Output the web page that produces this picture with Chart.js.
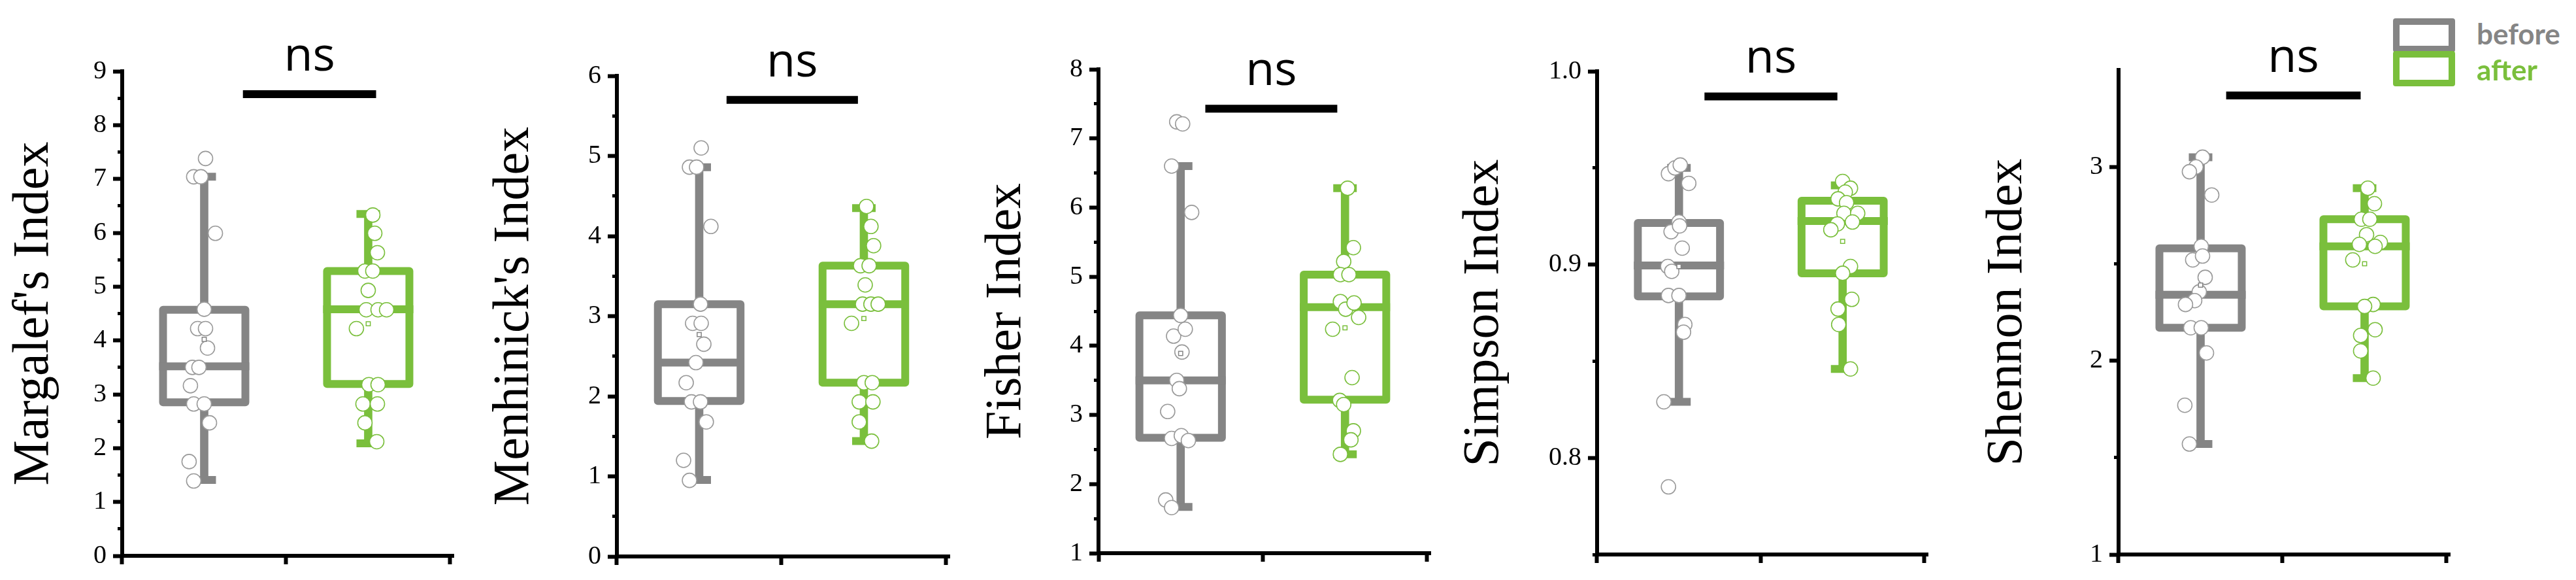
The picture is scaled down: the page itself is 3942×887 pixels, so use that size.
<!DOCTYPE html>
<html>
<head>
<meta charset="utf-8">
<script src="https://cdn.jsdelivr.net/npm/chart.js@4.4.1/dist/chart.umd.min.js"></script>
<style>
  html, body { margin: 0; padding: 0; background: #fff; }
  body { width: 3942px; height: 887px; position: relative; overflow: hidden; }
  .panel { position: absolute; top: 0; height: 887px; }
  .lg-box { position: absolute; box-sizing: border-box; border: 10px solid; border-radius: 4px; background: #fff; }
  .lg-text { position: absolute; font-family: Lato, sans-serif; font-weight: 700; font-size: 44px; line-height: 44px; white-space: nowrap; }
</style>
</head>
<body>
<div class="panel" id="p0"><canvas></canvas></div>
<div class="panel" id="p1"><canvas></canvas></div>
<div class="panel" id="p2"><canvas></canvas></div>
<div class="panel" id="p3"><canvas></canvas></div>
<div class="panel" id="p4"><canvas></canvas></div>

<div class="lg-box" style="left:3662px;top:28px;width:95px;height:52px;border-color:#858585"></div>
<div class="lg-box" style="left:3662px;top:78px;width:95px;height:54px;border-color:#7abf3c"></div>
<div class="lg-text" style="left:3790px;top:29px;color:#858585">before</div>
<div class="lg-text" style="left:3790px;top:84px;color:#7abf3c">after</div>

<script>
const GRAY = '#858585';
const GREEN = '#7abf3c';

const categories = ['before', 'after'];
const titles = ["Margalef's Index", "Menhinick's Index", 'Fisher Index', 'Simpson Index', 'Shennon Index'];

// y axis ranges and tick steps
const yMin = [0, 0, 1, 0.75, 1];
const yMax = [9, 6, 8, 1.0, 3.5];
const yStep = [0.5, 0.5, 0.5, 0.05, 0.5];
const yMajor = [1, 1, 1, 0.1, 1];
const yDecimals = [0, 0, 0, 1, 0];

// box stats: [lower whisker, Q1, median, Q3, upper whisker]
const margalefBoxBefore = [1.41, 2.85, 3.52, 4.57, 7.04];
const margalefBoxAfter = [2.09, 3.19, 4.58, 5.29, 6.35];
const menhinickBoxBefore = [0.955, 1.94, 2.42, 3.15, 4.86];
const menhinickBoxAfter = [1.44, 2.17, 3.15, 3.63, 4.35];
const fisherBoxBefore = [1.67, 2.67, 3.50, 4.44, 6.60];
const fisherBoxAfter = [2.43, 3.22, 4.56, 5.03, 6.28];
const simpsonBoxBefore = [0.829, 0.8835, 0.8995, 0.9215, 0.950];
const simpsonBoxAfter = [0.846, 0.8955, 0.9225, 0.933, 0.941];
const shennonBoxBefore = [1.57, 2.17, 2.34, 2.58, 3.05];
const shennonBoxAfter = [1.91, 2.28, 2.59, 2.73, 2.89];

// mean markers per panel
const meansBefore = [4.02, 2.77, 3.89, 0.899, 2.39];
const meansAfter = [4.31, 2.97, 4.26, 0.912, 2.50];

// individual samples and their horizontal jitter (category units)
const margalefBefore = [7.38, 7.04, 7.04, 5.99, 4.58, 4.22, 4.22, 3.86, 3.50, 3.50, 3.16, 2.82, 2.82, 2.47, 1.75, 1.39];
const margalefBeforeJitter = [0.008, -0.064, -0.02, 0.068, 0, -0.04, 0.008, 0.02, -0.072, -0.032, -0.084, -0.064, 0, 0.032, -0.092, -0.064];
const margalefAfter = [6.33, 5.99, 5.63, 5.29, 5.29, 4.93, 4.57, 4.57, 4.57, 4.22, 3.18, 3.18, 2.82, 2.82, 2.47, 2.12];
const margalefAfterJitter = [0.028, 0.04, 0.056, -0.02, 0.028, 0, -0.012, 0.06, 0.112, -0.072, 0.004, 0.06, -0.032, 0.056, -0.02, 0.052];

const menhinickBefore = [5.10, 4.86, 4.86, 4.12, 3.15, 2.91, 2.91, 2.65, 2.42, 2.17, 1.93, 1.93, 1.68, 1.20, 0.95];
const menhinickBeforeJitter = [0.012, -0.059, -0.016, 0.071, 0.008, -0.04, 0.012, 0.028, -0.02, -0.079, -0.047, 0.008, 0.043, -0.095, -0.059];
const menhinickAfter = [4.37, 4.12, 3.88, 3.63, 3.63, 3.39, 3.15, 3.15, 3.15, 2.91, 2.17, 2.17, 1.93, 1.93, 1.68, 1.44];
const menhinickAfterJitter = [0.016, 0.043, 0.059, -0.02, 0.032, 0.008, -0.008, 0.043, 0.087, -0.075, 0, 0.051, -0.028, 0.055, -0.028, 0.047];

const fisherBefore = [7.24, 7.21, 6.60, 5.93, 4.44, 4.14, 4.24, 3.91, 3.50, 3.38, 3.05, 2.66, 2.70, 2.63, 1.77, 1.66];
const fisherBeforeJitter = [-0.024, 0.012, -0.055, 0.067, 0, -0.043, 0.028, 0.008, -0.024, -0.008, -0.079, -0.055, 0.004, 0.047, -0.091, -0.055];
const fisherAfter = [6.28, 5.42, 5.22, 5.03, 5.03, 4.64, 4.53, 4.62, 4.41, 4.24, 3.54, 3.21, 3.15, 2.77, 2.64, 2.43];
const fisherAfterJitter = [0.016, 0.051, -0.008, -0.028, 0.024, -0.028, 0.004, 0.055, 0.083, -0.075, 0.043, -0.032, -0.008, 0.051, 0.036, -0.028];

const simpsonBefore = [0.947, 0.950, 0.9515, 0.942, 0.922, 0.917, 0.920, 0.9085, 0.899, 0.8965, 0.884, 0.884, 0.869, 0.865, 0.829, 0.785];
const simpsonBeforeJitter = [-0.064, -0.024, 0.008, 0.06, 0, -0.048, 0.004, 0.02, -0.068, -0.044, -0.064, 0, 0.036, 0.028, -0.092, -0.064];
const simpsonAfter = [0.943, 0.9395, 0.9375, 0.934, 0.932, 0.9265, 0.9265, 0.922, 0.921, 0.918, 0.899, 0.8955, 0.882, 0.877, 0.869, 0.846];
const simpsonAfterJitter = [0, 0.048, 0.016, -0.028, 0.024, 0.008, 0.092, 0.06, -0.032, -0.072, 0.048, 0, 0.056, -0.028, -0.024, 0.048];

const shennonBefore = [3.05, 3.00, 2.975, 2.855, 2.59, 2.52, 2.54, 2.43, 2.355, 2.31, 2.29, 2.17, 2.17, 2.04, 1.77, 1.57];
const shennonBeforeJitter = [0.012, -0.028, -0.068, 0.068, 0.004, -0.048, 0.012, 0.028, -0.008, -0.036, -0.092, -0.06, 0.004, 0.036, -0.096, -0.068];
const shennonAfter = [2.89, 2.81, 2.73, 2.73, 2.65, 2.61, 2.59, 2.60, 2.52, 2.29, 2.28, 2.16, 2.13, 2.05, 1.91];
const shennonAfterJitter = [0.02, 0.06, -0.02, 0.032, 0.012, 0.096, 0.064, -0.032, -0.072, 0.052, 0, 0.064, -0.024, -0.024, 0.052];

// significance bracket per panel
const sigFrom = [1.236, 1.166, 1.15, 1.156, 1.156];
const sigTo = [2.048, 1.964, 1.953, 1.968, 1.976];
const sigY = [8.575, 5.70, 7.43, 0.987, 3.368];
const sigLabel = 'ns';

const boxesBefore = [margalefBoxBefore, menhinickBoxBefore, fisherBoxBefore, simpsonBoxBefore, shennonBoxBefore];
const boxesAfter = [margalefBoxAfter, menhinickBoxAfter, fisherBoxAfter, simpsonBoxAfter, shennonBoxAfter];
const samplesBefore = [margalefBefore, menhinickBefore, fisherBefore, simpsonBefore, shennonBefore];
const jitterBefore = [margalefBeforeJitter, menhinickBeforeJitter, fisherBeforeJitter, simpsonBeforeJitter, shennonBeforeJitter];
const samplesAfter = [margalefAfter, menhinickAfter, fisherAfter, simpsonAfter, shennonAfter];
const jitterAfter = [margalefAfterJitter, menhinickAfterJitter, fisherAfterJitter, simpsonAfterJitter, shennonAfterJitter];

// page layout (pixels)
const axisX = [187, 944, 1681, 2444, 3242];
const areaRight = [694, 1453, 2189, 2950, 3749];
const areaTop = [109, 116, 106, 109, 107];
const areaBottom = [850, 851, 846, 848, 848];
const titleX = [53, 788, 1541, 2272, 3073];
const Y_AXIS_W = 220;
const PAD_RIGHT = 10;
const X_MIN = 0.5, X_MAX = 2.52;
const BOX_HALF = 0.251;   // half box width in category units

const isMajor = (v, major) => Math.abs(v / major - Math.round(v / major)) < 1e-6;

const nsPlugin = {
    id: 'nsLabel',
    afterDatasetsDraw(chart, args, opts) {
        const {ctx, scales: {x, y}} = chart;
        ctx.save();
        ctx.font = "72px 'Open Sans', sans-serif";
        ctx.fillStyle = '#000';
        ctx.textAlign = 'center';
        ctx.textBaseline = 'alphabetic';
        const cx = x.getPixelForValue((opts.from + opts.to) / 2);
        ctx.fillText(opts.text, cx, y.getPixelForValue(opts.level) - 36);
        ctx.restore();
    }
};

// closed outline from Q1 to Q3 around category c
function boxOutline(c, s, color) {
    return {
        type: 'line', label: 'box', order: 4,
        data: [
            {x: c - BOX_HALF, y: s[1]}, {x: c + BOX_HALF, y: s[1]},
            {x: c + BOX_HALF, y: s[3]}, {x: c - BOX_HALF, y: s[3]},
            {x: c - BOX_HALF, y: s[1]}
        ],
        borderColor: color, borderWidth: 12, pointRadius: 0, tension: 0, fill: false,
        borderJoinStyle: 'round', borderCapStyle: 'round'
    };
}

function makePanel(i) {
    const wrap = document.getElementById('p' + i);
    const left = axisX[i] - Y_AXIS_W;
    wrap.style.left = left + 'px';
    wrap.style.width = (areaRight[i] - left + PAD_RIGHT) + 'px';

    const b = boxesBefore[i], a = boxesAfter[i];
    const major = yMajor[i];

    new Chart(wrap.querySelector('canvas'), {
        type: 'scatter',
        data: {
            datasets: [
                {
                    type: 'bar', label: 'whiskers', order: 6, grouped: false,
                    data: [
                        {x: 1, y: [b[0], b[1]]}, {x: 1, y: [b[3], b[4]]},
                        {x: 2, y: [a[0], a[1]]}, {x: 2, y: [a[3], a[4]]}
                    ],
                    backgroundColor: [GRAY, GRAY, GREEN, GREEN], barThickness: 12
                },
                {
                    label: 'caps', order: 5,
                    data: [{x: 1, y: b[0]}, {x: 1, y: b[4]}, {x: 2, y: a[0]}, {x: 2, y: a[4]}],
                    pointStyle: 'line', pointRadius: 18, pointBorderWidth: 12,
                    pointBorderColor: [GRAY, GRAY, GREEN, GREEN]
                },
                boxOutline(1, b, GRAY),
                boxOutline(2, a, GREEN),
                {
                    label: 'medians', order: 3,
                    data: [{x: 1, y: b[2]}, {x: 2, y: a[2]}],
                    pointStyle: 'line', pointRadius: 69, pointBorderWidth: 12,
                    pointBorderColor: [GRAY, GREEN]
                },
                {
                    label: categories[0], order: 2,
                    data: samplesBefore[i].map((v, k) => ({x: 1 + jitterBefore[i][k], y: v})),
                    pointRadius: 11, pointBorderWidth: 1.6,
                    pointBackgroundColor: '#fff', pointBorderColor: '#9a9a9a'
                },
                {
                    label: categories[1], order: 2,
                    data: samplesAfter[i].map((v, k) => ({x: 2 + jitterAfter[i][k], y: v})),
                    pointRadius: 11, pointBorderWidth: 1.6,
                    pointBackgroundColor: '#fff', pointBorderColor: GREEN
                },
                {
                    label: 'mean', order: 1,
                    data: [{x: 1, y: meansBefore[i]}, {x: 2, y: meansAfter[i]}],
                    pointStyle: 'rect', pointRadius: 4.5, pointBorderWidth: 1.5,
                    pointBackgroundColor: '#fff', pointBorderColor: [GRAY, GREEN]
                },
                {
                    type: 'line', label: 'significance', order: 0,
                    data: [{x: sigFrom[i], y: sigY[i]}, {x: sigTo[i], y: sigY[i]}],
                    borderColor: '#000', borderWidth: 12, pointRadius: 0, clip: false
                }
            ]
        },
        options: {
            responsive: true,
            maintainAspectRatio: false,
            animation: false,
            events: [],
            layout: {autoPadding: false, padding: {left: 0, right: PAD_RIGHT, top: areaTop[i], bottom: 0}},
            plugins: {
                legend: {display: false},
                tooltip: {enabled: false},
                nsLabel: {from: sigFrom[i], to: sigTo[i], level: sigY[i], text: sigLabel}
            },
            scales: {
                x: {
                    type: 'linear', min: X_MIN, max: X_MAX, offset: false,
                    afterBuildTicks: (scale) => { scale.ticks = [{value: 1}, {value: 2}]; },
                    afterFit: (scale) => { scale.height = 887 - areaBottom[i]; },
                    ticks: {display: false},
                    grid: {drawOnChartArea: false, tickLength: 13, tickWidth: 6, tickColor: '#000'},
                    border: {color: '#000', width: 6}
                },
                y: {
                    type: 'linear', min: yMin[i], max: yMax[i],
                    afterFit: (scale) => { scale.width = Y_AXIS_W; },
                    ticks: {
                        stepSize: yStep[i], autoSkip: false, padding: 10, color: '#000',
                        font: {family: "'Liberation Serif', 'Times New Roman', serif", size: 40},
                        callback: (v) => isMajor(v, major) ? Number(v).toFixed(yDecimals[i]) : ''
                    },
                    grid: {
                        drawOnChartArea: false, tickLength: 14,
                        tickWidth: (c) => (c.tick && isMajor(c.tick.value, major)) ? 6 : 5,
                        tickColor: (c) => (c.tick && !isMajor(c.tick.value, major) && Math.abs(c.tick.value - yMax[i]) < 1e-9) ? 'rgba(0,0,0,0)' : '#000',
                        tickBorderDash: (c) => (c.tick && !isMajor(c.tick.value, major)) ? [0, 7, 30, 0] : []
                    },
                    border: {color: '#000', width: 6},
                    title: {
                        display: true, text: titles[i], color: '#000',
                        font: {family: "'Liberation Serif', 'Times New Roman', serif", size: 78, lineHeight: 1},
                        padding: {top: titleX[i] - left - 39, bottom: 0}
                    }
                }
            }
        },
        plugins: [nsPlugin]
    });
}

for (let i = 0; i < 5; i++) makePanel(i);
</script>
</body>
</html>
